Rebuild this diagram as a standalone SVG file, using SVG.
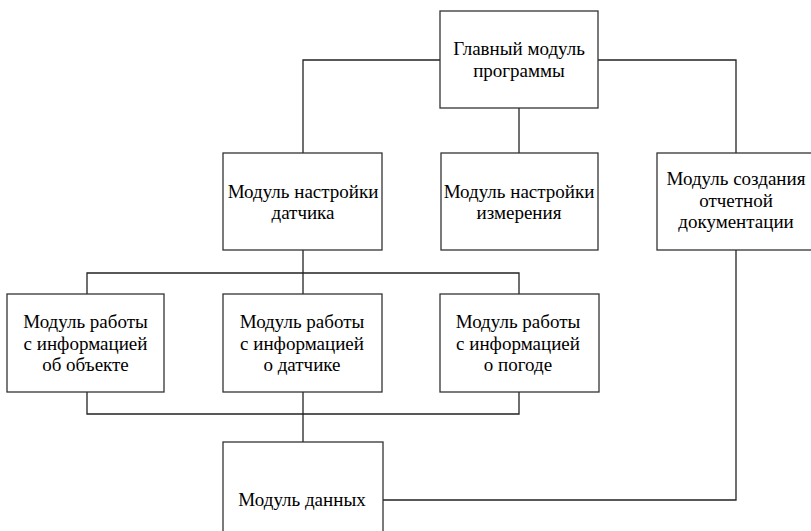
<svg xmlns="http://www.w3.org/2000/svg" width="811" height="531" viewBox="0 0 811 531">
<style>
.box{fill:#fff;stroke:#333;stroke-width:1.3}
.ln{fill:none;stroke:#222;stroke-width:1.3}
</style>
<rect width="811" height="531" fill="#fff"/>
<g id="connectors">
<path class="ln" d="M440,60 H303 V153"/>
<path class="ln" d="M598,60 H736 V153"/>
<path class="ln" d="M519,108 V153"/>
<path class="ln" d="M303,250 V294"/>
<path class="ln" d="M87,294 V273 H519 V294"/>
<path class="ln" d="M87,392 V414 H519 V392"/>
<path class="ln" d="M303,392 V442"/>
<path class="ln" d="M736,250 V500 H383"/>
</g>
<g font-family="Times New Roman, Liberation Serif, serif" font-size="19px" text-anchor="middle" fill="#000">
<g id="main"><rect class="box" x="440" y="11" width="158" height="97"/><text x="519" y="55">Главный модуль</text><text x="519" y="77">программы</text></g>
<g id="sensor-setup"><rect class="box" x="223" y="153" width="159" height="97"/><text x="303" y="198">Модуль настройки</text><text x="303" y="219">датчика</text></g>
<g id="measure-setup"><rect class="box" x="441" y="153" width="157" height="97"/><text x="519" y="198">Модуль настройки</text><text x="519" y="219">измерения</text></g>
<g id="report"><rect class="box" x="657" y="153" width="158" height="97"/><text x="736" y="185">Модуль создания</text><text x="736" y="207">отчетной</text><text x="736" y="228">документации</text></g>
<g id="object-info"><rect class="box" x="7" y="294" width="157" height="98"/><text x="85.5" y="328">Модуль работы</text><text x="85.5" y="349.5">с информацией</text><text x="85.5" y="371">об объекте</text></g>
<g id="sensor-info"><rect class="box" x="223" y="294" width="159" height="98"/><text x="302" y="328">Модуль работы</text><text x="302" y="349.5">с информацией</text><text x="302" y="371">о датчике</text></g>
<g id="weather-info"><rect class="box" x="440" y="294" width="159" height="98"/><text x="518" y="328">Модуль работы</text><text x="518" y="349.5">с информацией</text><text x="518" y="371">о погоде</text></g>
<g id="data"><rect class="box" x="223" y="442" width="160" height="100"/><text x="302" y="506">Модуль данных</text></g>
</g>
</svg>
